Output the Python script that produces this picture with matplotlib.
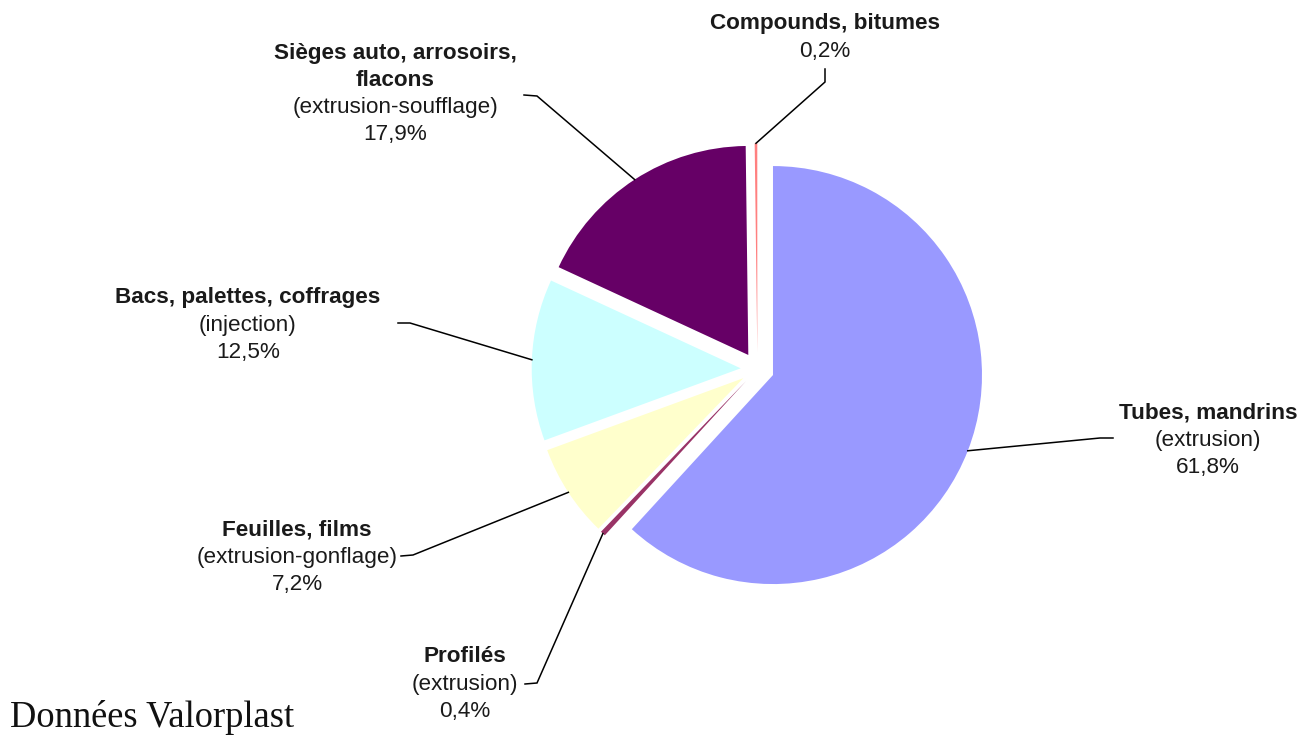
import numpy as np
import matplotlib
matplotlib.use("Agg")
import matplotlib.pyplot as plt

# Répartition des débouchés (sens horaire depuis midi)
names = ["Tubes, mandrins", "Profilés", "Feuilles, films",
         "Bacs, palettes, coffrages", "Sièges auto, arrosoirs,\nflacons",
         "Compounds, bitumes"]
processes = ["(extrusion)", "(extrusion)", "(extrusion-gonflage)",
             "(injection)", "(extrusion-soufflage)", None]
shares = [61.8, 0.4, 7.2, 12.5, 17.9, 0.2]
colors = ["#9999FF", "#993366", "#FFFFCC", "#CCFFFF", "#660066", "#FF8080"]

W, H = 1311, 736
fig = plt.figure(figsize=(W / 100, H / 100), dpi=100)
ax = fig.add_axes([0, 0, 1, 1])

def Y(y):
    # page coordinates measured from the top edge
    return H - y

radius = 209
center = (757.4, Y(369))
gap = 0.08 * radius

wedges, _ = ax.pie(shares, colors=colors, startangle=90, counterclock=False,
                   radius=radius, center=center, explode=[gap] * len(shares),
                   wedgeprops=dict(linewidth=0))

ax.set_xlim(0, W)
ax.set_ylim(0, H)
ax.set_aspect("equal")
ax.axis("off")

plt.rcParams["font.family"] = ["Liberation Sans", "DejaVu Sans"]
fs = 16.2
line_h = 27.3

# label block: centre x, top line y, elbow point, label-side end of leader
layout = [
    dict(cx=1208, y0=413, elbow=(1100, 438), end=(1113, 438)),
    dict(cx=465, y0=657, elbow=(537, 683), end=(525, 684)),
    dict(cx=297, y0=530, elbow=(413, 555), end=(401, 556)),
    dict(cx=248, y0=298, elbow=(410, 323), end=(398, 323)),
    dict(cx=395, y0=53, elbow=(537, 96), end=(524, 95)),
    dict(cx=825, y0=24, elbow=(825, 82), end=(825, 69)),
]

for w, name, proc, val, lay in zip(wedges, names, processes, shares, layout):
    lines = [(t, "bold") for t in name.split("\n")]
    if proc:
        lines.append((proc, "normal"))
    lines.append((f"{val:.1f}".replace(".", ",") + "%", "normal"))
    for i, (t, wt) in enumerate(lines):
        ax.text(lay["cx"], Y(lay["y0"] + i * line_h), t, ha="center", va="center",
                fontsize=fs, fontweight=wt, color="#1a1a1a")
    mid = np.deg2rad((w.theta1 + w.theta2) / 2)
    ax_, ay_ = w.center
    px = ax_ + w.r * np.cos(mid)
    py = ay_ + w.r * np.sin(mid)
    ex, ey = lay["elbow"]
    sx, sy = lay["end"]
    ax.plot([px, ex, sx], [py, Y(ey), Y(sy)], color="black", lw=1.1,
            solid_joinstyle="miter")

ax.text(10, Y(727), "Données Valorplast", ha="left", va="baseline",
        fontsize=26.3, family="Liberation Serif", color="#111111")

fig.savefig("out.png", dpi=100)
